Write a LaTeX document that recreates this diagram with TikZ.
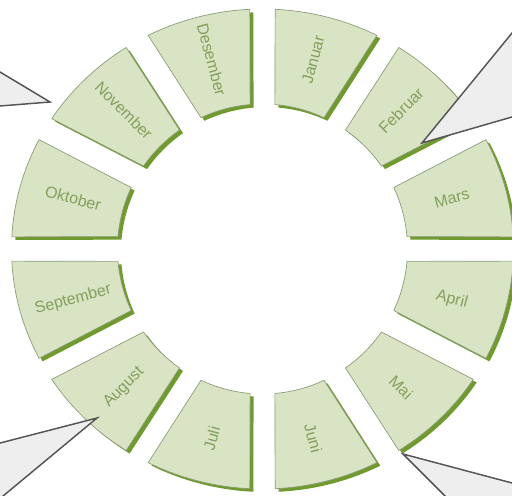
\documentclass[tikz,border=0pt]{standalone}
\usepackage{fontspec}
\setmainfont{Liberation Sans}
\definecolor{segfill}{HTML}{D8E4C4}
\definecolor{segshadow}{HTML}{6F9A2E}
\definecolor{segline}{HTML}{8A9A78}
\definecolor{segtext}{HTML}{84A05C}
\definecolor{callfill}{HTML}{EEEEEE}
\definecolor{callline}{HTML}{555555}

\begin{document}
\begin{tikzpicture}[x=0.75pt,y=0.75pt,yscale=-1,xscale=1,
  segment/.style={fill=segfill,draw=segline,line width=0.5,
    preaction={fill=segshadow,draw=none,transform canvas={xshift=2.6pt,yshift=-2.3pt}}},
  month/.style={text=segtext,font=\fontsize{12}{14}\selectfont,inner sep=0pt},
  callout/.style={fill=callfill,draw=callline,line width=1.1}]
\useasboundingbox (0,0) rectangle (512,496);

%Ring: twelve block arcs, one per month
\begin{scope}[shift={(262.5,249)}]
\foreach \k/\id/\lbl/\rot in {0/jan/Januar/75, 1/feb/Februar/45, 2/mar/Mars/15,
  3/apr/April/-15, 4/mai/Mai/-45, 5/jun/Juni/-75, 6/jul/Juli/75, 7/aug/August/45,
  8/sep/September/15, 9/okt/Oktober/-15, 10/nov/November/-45, 11/des/Desember/-75}{
  \pgfmathsetmacro\a{-90+30*\k}
  \pgfmathsetmacro\b{\a+30}
  \pgfmathsetmacro\mid{\a+15}
  \path[segment] (\a+4.9:145) -- (\a+2.9:251 and 240)
    arc[start angle=\a+2.9,end angle=\b-2.9,x radius=251,y radius=240]
    -- (\b-4.9:145) arc[start angle=\b-4.9,end angle=\a+4.9,radius=145] -- cycle;
  % Text Node
  \node[month,rotate=\rot] (\id) at (\mid:196) {\lbl};
}
\end{scope}

\begin{scope}
\clip (0,0) rectangle (512,496);
%Shape: Callout top left
\draw[callout] (-20,60) -- (50,102) -- (-20,107.6) -- cycle;
%Shape: Callout top right
\draw[callout] (532,8.6) -- (422,143) -- (532,111.2) -- cycle;
%Shape: Callout bottom left
\draw[callout] (-20,448.2) -- (97,418) -- (-21,516) -- (-40,516) -- cycle;
%Shape: Callout bottom right
\draw[callout] (532,488.3) -- (403,454) -- (465,516) -- (532,516) -- cycle;
\end{scope}
\end{tikzpicture}
\end{document}
